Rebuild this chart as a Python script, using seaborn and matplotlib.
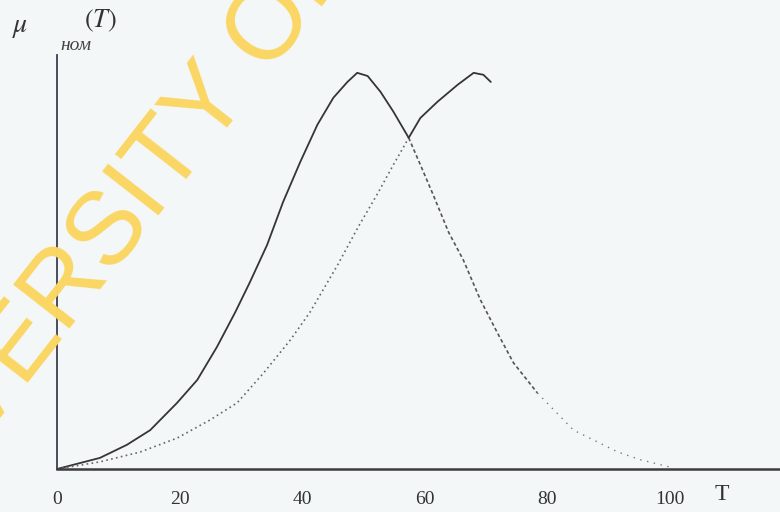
import numpy as np
import pandas as pd
import matplotlib
matplotlib.use("Agg")
import matplotlib.pyplot as plt
import seaborn as sns

# curve 1: solid rise, dashed/dotted fall
t1 = [0, 7.0, 11.4, 15.2, 19.6, 22.9, 26.1, 29.1, 31.5, 34.3, 36.9, 39.7, 42.5, 45.1, 47.4,
      49.0, 50.7, 52.8, 54.9, 57.4, 59.3, 61.4, 63.9, 66.3, 69.1, 71.9, 74.5, 78.4,
      84.3, 87.6, 91.5, 95.3, 100.0]
mu1 = [0, 0.028, 0.061, 0.098, 0.167, 0.225, 0.308, 0.396, 0.472, 0.566, 0.674, 0.775, 0.869, 0.937, 0.977,
       1.0, 0.992, 0.952, 0.902, 0.836, 0.768, 0.692, 0.598, 0.528, 0.427, 0.343, 0.268, 0.192,
       0.098, 0.073, 0.043, 0.023, 0.005]

# curve 2: dotted rise, solid top
t2 = [0, 7.0, 13.6, 19.6, 25.0, 29.4, 33.7, 38.1, 41.3, 45.8, 49.2, 52.5, 54.9, 56.5, 57.4,
      59.3, 62.1, 65.4, 68.0, 69.6, 70.8]
mu2 = [0, 0.018, 0.043, 0.078, 0.124, 0.167, 0.242, 0.326, 0.396, 0.515, 0.612, 0.700, 0.768, 0.811, 0.836,
       0.886, 0.927, 0.970, 1.0, 0.995, 0.977]

t_cross = 57.4   # where the two curves meet
t_fade = 78.4    # dashed part of curve 1 turns into sparse dots
x_ticks = [0, 20, 40, 60, 80, 100]

df1 = pd.DataFrame({"T": t1, "mu": mu1})
df2 = pd.DataFrame({"T": t2, "mu": mu2})

sns.set_theme(style="white")
plt.rcParams["font.family"] = ["Liberation Serif", "DejaVu Serif"]

bg = "#f4f7f7"
fig = plt.figure(figsize=(7.8, 5.12), dpi=100, facecolor=bg)
ax = fig.add_axes([57 / 780, 43 / 512, 723 / 780, 414 / 512], facecolor=bg)

dark = "#353535"
sns.lineplot(data=df1[df1["T"] <= t_cross], x="T", y="mu", ax=ax, color=dark, lw=1.3)
sns.lineplot(data=df1[(df1["T"] >= t_cross) & (df1["T"] <= t_fade)], x="T", y="mu", ax=ax,
             color="#555555", lw=1.2, linestyle=(0, (2.2, 1.6)))
sns.lineplot(data=df1[df1["T"] >= t_fade], x="T", y="mu", ax=ax,
             color="#7a7a7a", lw=1.0, linestyle=(0, (1, 4)))
sns.lineplot(data=df2[df2["T"] <= t_cross], x="T", y="mu", ax=ax,
             color="#666666", lw=1.2, linestyle=(0, (1, 2)))
sns.lineplot(data=df2[df2["T"] >= t_cross], x="T", y="mu", ax=ax, color=dark, lw=1.3)

ax.set_xlim(0, 118)
ax.set_ylim(0, 1.045)
ax.set_xticks(x_ticks)
ax.set_xticklabels([str(v) for v in x_ticks], fontsize=14, color="#333333")
ax.set_yticks([])
ax.tick_params(axis="x", length=0, pad=16)
ax.set_xlabel("")
ax.set_ylabel("")
for side in ["top", "right"]:
    ax.spines[side].set_visible(False)
ax.spines["left"].set_color("#3a3e50")
ax.spines["left"].set_linewidth(1.3)
ax.spines["bottom"].set_color("#3c3c3c")
ax.spines["bottom"].set_linewidth(1.8)

# axis labels
fig.text(722 / 780, 1 - 494 / 512, "T", fontsize=17, color="#333333", ha="center", va="center")
fig.text(12 / 780, 1 - 27 / 512, r"$\mu$", fontsize=20, color="#333333", va="center",
         math_fontfamily="stix")
fig.text(60 / 780, 1 - 46 / 512, "ном", fontsize=14, style="italic", color="#444444", va="center")
fig.text(84 / 780, 1 - 21 / 512, r"$(T)$", fontsize=19, color="#333333", va="center",
         math_fontfamily="stix")

# yellow watermark across the top-left corner
fig.text(-128 / 780, 1 - 582 / 512, "UNIVERSITY OF", fontsize=74, color="#fbd664",
         family="Liberation Sans", rotation=52, rotation_mode="anchor",
         ha="left", va="baseline", zorder=10)

fig.savefig("out.png", dpi=100, facecolor=bg)
